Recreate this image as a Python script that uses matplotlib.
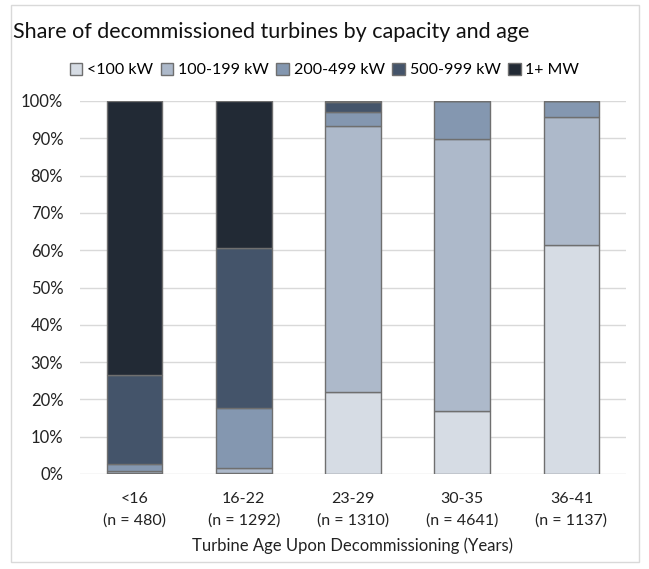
import matplotlib.pyplot as plt
from matplotlib.patches import Rectangle
from matplotlib.ticker import PercentFormatter
import numpy as np

plt.rcParams['font.family'] = ['Lato', 'DejaVu Sans']

age_groups = ["<16", "16-22", "23-29", "30-35", "36-41"]
counts = [480, 1292, 1310, 4641, 1137]
classes = ["<100 kW", "100-199 kW", "200-499 kW", "500-999 kW", "1+ MW"]
colors = ["#d6dce4", "#adb9ca", "#8497b0", "#44546a", "#222a35"]

# percent share of each capacity class per age group
under100 = [0.4, 0.3, 22.0, 17.0, 61.5]
kw100_199 = [0.4, 1.4, 71.3, 72.7, 34.1]
kw200_499 = [1.8, 16.0, 3.7, 10.3, 4.4]
kw500_999 = [23.9, 42.9, 2.6, 0.0, 0.0]
mw1plus = [73.5, 39.4, 0.4, 0.0, 0.0]
shares = [under100, kw100_199, kw200_499, kw500_999, mw1plus]

fig = plt.figure(figsize=(6.49, 5.69), dpi=100)
fig.patches.append(Rectangle((0.017, 0.012), 0.968, 0.98, transform=fig.transFigure,
                             fill=False, edgecolor="#d9d9d9", linewidth=1))
ax = fig.add_axes([80 / 649, 1 - 474 / 569, 546 / 649, 373 / 569])

x = np.arange(len(age_groups))
bottom = np.zeros(len(age_groups))
for name, vals, c in zip(classes, shares, colors):
    vals = np.array(vals)
    ax.bar(x, vals, 0.51, bottom=bottom, color=c, edgecolor="#6f6f6f",
           linewidth=1, label=name, zorder=3)
    bottom += vals

ax.set_xlim(-0.5, len(age_groups) - 0.5)
ax.set_ylim(0, 100)
ax.set_yticks(np.arange(0, 101, 10))
ax.yaxis.set_major_formatter(PercentFormatter(decimals=0))
ax.set_xticks(x)
ax.set_xticklabels([f"{g}\n(n = {n})" for g, n in zip(age_groups, counts)],
                   fontsize=11.5, color="#222222", linespacing=1.65)
ax.tick_params(axis="y", labelsize=12, colors="#222222", length=0, pad=12)
ax.tick_params(axis="x", length=0, pad=13)
ax.grid(axis="y", color="#d9d9d9", linewidth=1, zorder=0)
for s in ax.spines.values():
    s.set_visible(False)
ax.set_xlabel("Turbine Age Upon Decommissioning (Years)", fontsize=12,
              color="#222222", labelpad=7)

fig.text(13 / 649, 1 - 32 / 569, "Share of decommissioned turbines by capacity and age",
         fontsize=15.5, color="#111111", va="center")
fig.legend(loc="center", bbox_to_anchor=(0.5, 1 - 70 / 569), ncol=5, frameon=False,
           fontsize=11.5, handlelength=0.8, handleheight=0.8, handletextpad=0.3,
           columnspacing=0.45)

fig.savefig("out.png", dpi=100)
